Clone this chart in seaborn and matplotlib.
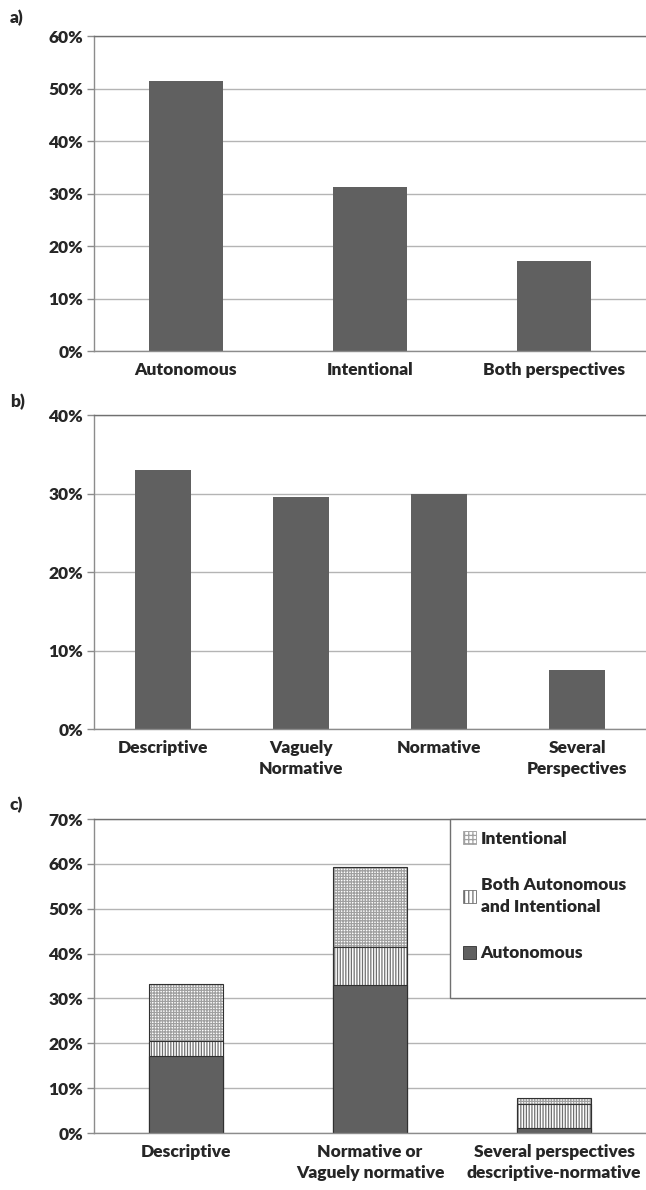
import numpy as np
import matplotlib
matplotlib.use("Agg")
import matplotlib.pyplot as plt
import seaborn as sns
from matplotlib.patches import Patch, Rectangle
from matplotlib.ticker import FuncFormatter

# Panel a: share of each perspective
perspective_labels = ["Autonomous", "Intentional", "Both perspectives"]
perspective_pct = [51.4, 31.3, 17.2]

# Panel b: share of each view
view_labels = ["Descriptive", "Vaguely\nNormative", "Normative", "Several\nPerspectives"]
view_pct = [33.0, 29.5, 30.0, 7.5]

# Panel c: stacked perspective within each view
cross_labels = ["Descriptive", "Normative or\nVaguely normative",
                "Several perspectives\ndescriptive-normative"]
cross_autonomous = [17.2, 33.1, 1.1]
cross_both = [3.4, 8.3, 5.4]
cross_intentional = [12.6, 17.8, 1.3]

BAR_COLOR = "#606060"
GRID_COLOR = "#b4b4b4"
AXIS_COLOR = "#8c8c8c"
OUTLINE = "#303030"
HATCH_GREY = "#a0a0a0"
FONT_SIZE = 12.5
WEIGHT = "heavy"
BAR_WIDTH = 0.4

sns.set_style("white")
plt.rcParams["font.family"] = ["Lato", "DejaVu Sans"]
plt.rcParams["font.weight"] = WEIGHT
plt.rcParams["hatch.linewidth"] = 0.9


def style_axes(ax, ymax, n):
    ax.set_xlim(-0.5, n - 0.5)
    ax.set_ylim(0, ymax)
    ax.set_yticks(np.arange(0, ymax + 1, 10))
    ax.yaxis.set_major_formatter(FuncFormatter(lambda v, p: f"{v:.0f}%"))
    ax.grid(axis="y", color=GRID_COLOR, lw=1)
    ax.grid(axis="x", visible=False)
    ax.set_axisbelow(True)
    ax.set_xticks(np.arange(n + 1) - 0.5, minor=True)
    ax.tick_params(axis="x", which="major", length=0, pad=8, labelsize=FONT_SIZE)
    ax.tick_params(axis="x", which="minor", length=5, width=1, color=AXIS_COLOR)
    ax.tick_params(axis="y", length=5, width=1, color=AXIS_COLOR, pad=3,
                   labelsize=FONT_SIZE, left=True)
    for side in ["left", "bottom", "top"]:
        ax.spines[side].set_visible(True)
        ax.spines[side].set_color(AXIS_COLOR)
        ax.spines[side].set_linewidth(1)
    ax.spines["top"].set_color("#707070")
    ax.spines["right"].set_visible(False)
    ax.set_xlabel("")
    ax.set_ylabel("")
    for lab in ax.get_xticklabels() + ax.get_yticklabels():
        lab.set_fontweight(WEIGHT)
        lab.set_linespacing(1.4)


fig = plt.figure(figsize=(6.46, 11.9), dpi=100)
H = 1190.0
W = 646.0


def axes_box(top_px, bottom_px, left_px=94):
    return [left_px / W, 1 - bottom_px / H, (W - left_px) / W, (bottom_px - top_px) / H]


# ---- a)
ax_a = fig.add_axes(axes_box(36, 351))
sns.barplot(x=perspective_labels, y=perspective_pct, color=BAR_COLOR,
            saturation=1, width=BAR_WIDTH, ax=ax_a, linewidth=0)
style_axes(ax_a, 60, len(perspective_labels))

# ---- b)
ax_b = fig.add_axes(axes_box(415, 729))
sns.barplot(x=view_labels, y=view_pct, color=BAR_COLOR,
            saturation=1, width=BAR_WIDTH, ax=ax_b, linewidth=0)
style_axes(ax_b, 40, len(view_labels))

# ---- c) stacked, drawn as overlapping cumulative bars
ax_c = fig.add_axes(axes_box(819, 1133))
top_both = np.add(cross_autonomous, cross_both)
top_int = top_both + np.array(cross_intentional)

layers = [
    (top_int, "white", "++++++", HATCH_GREY),
    (top_both, "white", "||||||", "#707070"),
    (np.array(cross_autonomous), BAR_COLOR, None, None),
]
for heights, face, hatch, hcol in layers:
    n0 = len(ax_c.patches)
    sns.barplot(x=cross_labels, y=heights, color=face, saturation=1,
                width=BAR_WIDTH, ax=ax_c)
    for p in ax_c.patches[n0:]:
        p.set_facecolor(face)
        p.set_linewidth(0)
        if hatch:
            p.set_hatch(hatch)
            p.set_edgecolor(hcol)
    n0 = len(ax_c.patches)
    sns.barplot(x=cross_labels, y=heights, color=OUTLINE, saturation=1,
                width=BAR_WIDTH, ax=ax_c)
    for p in ax_c.patches[n0:]:
        p.set_facecolor("none")
        p.set_edgecolor(OUTLINE)
        p.set_linewidth(0.8)
style_axes(ax_c, 70, len(cross_labels))

# legend box
ax_c.add_patch(Rectangle((0.645, 0.43), 0.36, 0.57, transform=ax_c.transAxes,
                         facecolor="white", edgecolor="#707070", lw=1,
                         zorder=4, clip_on=False))
handles = [
    Patch(facecolor="white", edgecolor=HATCH_GREY, hatch="++++", lw=0.6),
    Patch(facecolor="white", edgecolor="#707070", hatch="||||", lw=0.6),
    Patch(facecolor=BAR_COLOR, edgecolor=OUTLINE, lw=0.6),
]
leg = ax_c.legend(handles, ["Intentional", "Both Autonomous\nand Intentional", "Autonomous"],
                  loc="upper left", bbox_to_anchor=(0.655, 0.985), frameon=False,
                  prop={"size": FONT_SIZE, "weight": WEIGHT},
                  handlelength=0.75, handleheight=0.75, handletextpad=0.3,
                  labelspacing=1.75, borderaxespad=0)
for t in leg.get_texts():
    t.set_linespacing(1.45)
leg.set_zorder(5)

# panel letters
for letter, ypx in [("a)", 18), ("b)", 402), ("c)", 805)]:
    fig.text(10 / W, 1 - ypx / H, letter, fontsize=FONT_SIZE, fontweight=WEIGHT,
             va="center", ha="left")

fig.savefig("out.png", dpi=100, facecolor="white")
